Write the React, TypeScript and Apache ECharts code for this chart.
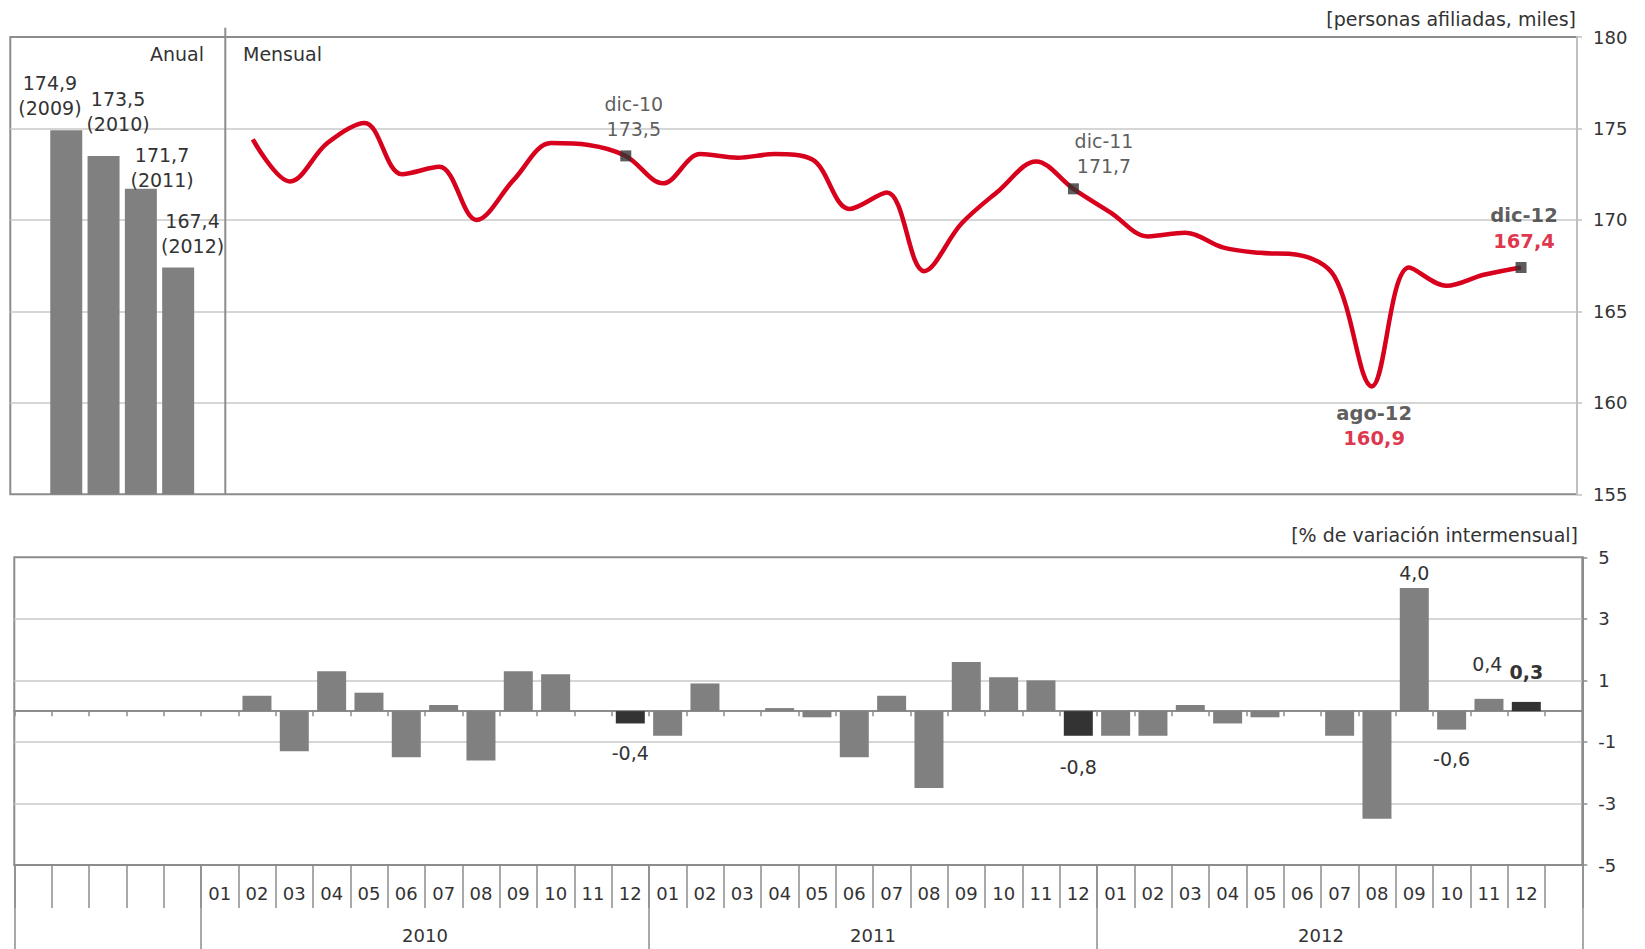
import React, { useEffect, useRef } from 'react';
import * as echarts from 'echarts';

// ---------- data ----------
const monthAbbr = ['ene', 'feb', 'mar', 'abr', 'may', 'jun', 'jul', 'ago', 'sep', 'oct', 'nov', 'dic'];
const monthLabels = ['01', '02', '03', '04', '05', '06', '07', '08', '09', '10', '11', '12'];
const years = ['2010', '2011', '2012'];

const annualYears = ['2009', '2010', '2011', '2012'];
const annualValues = [174.9, 173.5, 171.7, 167.4];

// personas afiliadas (miles), feb-10 .. dic-12
const monthlyStart = 'feb-10';
const monthlyValues = [
  174.4, 172.1, 174.2, 175.3, 172.5, 172.9, 170.0, 172.2, 174.2, 174.1, 173.5,
  172.0, 173.6, 173.4, 173.6, 173.3, 170.6, 171.5, 167.2, 169.8, 171.6, 173.2, 171.7,
  170.4, 169.1, 169.3, 168.5, 168.2, 168.1, 166.9, 160.9, 167.4, 166.4, 167.0, 167.4,
];

// % variación intermensual, ene-10 .. dic-12
const monthlyVariation = [
  null, 0.5, -1.3, 1.3, 0.6, -1.5, 0.2, -1.6, 1.3, 1.2, 0.0, -0.4,
  -0.8, 0.9, 0.0, 0.1, -0.2, -1.5, 0.5, -2.5, 1.6, 1.1, 1.0, -0.8,
  -0.8, -0.8, 0.2, -0.4, -0.2, 0.0, -0.8, -3.5, 4.0, -0.6, 0.4, 0.3,
];

const topTicks = [155, 160, 165, 170, 175, 180];
const bottomTicks = [-5, -3, -1, 1, 3, 5];

// ---------- styles ----------
const FONT = '"DejaVu Sans", Verdana, sans-serif';
const TXT = '#333333';
const RED = '#d7001d';
const BAR = '#808080';
const DARK = '#333333';
const AXIS = '#8c8c8c';
const AXIS_LIGHT = '#c0c0c0';
const GRIDC = '#c8c8c8';

// slots: 1 empty, 4 annual, 36 monthly, 1 empty
const slotIds: string[] = ['vacio-ini'];
annualYears.forEach((y) => slotIds.push('A' + y));
years.forEach((y) => monthAbbr.forEach((m) => slotIds.push(`${m}-${y.slice(2)}`)));
slotIds.push('vacio-fin');
const firstMonthSlot = slotIds.indexOf('ene-10');
const monthlyStartSlot = slotIds.indexOf(monthlyStart);

const fmt = (v: number) => v.toFixed(1).replace('.', ',');

// annual bar label offsets (manual placement as in original)
const annualLabelOffsets = [[-16.3, -4.5], [14.5, -14.5], [21.2, 8.5], [14.4, -3.5]];

const annualData = slotIds.map((id, i) => {
  const k = i - 1;
  if (k < 0 || k >= annualValues.length) return '-';
  return {
    value: annualValues[k],
    label: {
      show: true,
      position: 'top',
      distance: 5,
      offset: annualLabelOffsets[k],
      formatter: `${fmt(annualValues[k])}\n(${annualYears[k]})`,
      fontSize: 19,
      lineHeight: 25,
      color: TXT,
      fontFamily: FONT,
      align: 'center',
    },
  };
});

const lineData = slotIds.map((_, i) => {
  const k = i - monthlyStartSlot;
  return k >= 0 && k < monthlyValues.length ? monthlyValues[k] : '-';
});

const pointNotes = [
  { id: 'dic-10', marker: true, bold: false, offset: [8, -39.4], lh: 25 },
  { id: 'dic-11', marker: true, bold: false, offset: [30.6, -35.3], lh: 25 },
  { id: 'dic-12', marker: true, bold: true, offset: [3, -39.2], lh: 26.5 },
  { id: 'ago-12', marker: false, bold: true, offset: [2.3, 39.4], lh: 25 },
];

const noteData = pointNotes.map((n) => {
  const slot = slotIds.indexOf(n.id);
  const v = monthlyValues[slot - monthlyStartSlot];
  return {
    value: [slot, v],
    symbol: 'rect',
    symbolSize: n.marker ? 11 : 0,
    label: {
      show: true,
      position: 'inside',
      offset: n.offset,
      formatter: n.bold ? `{a|${n.id}}\n{r|${fmt(v)}}` : `{n|${n.id}}\n{n|${fmt(v)}}`,
      rich: {
        n: { fontSize: 19, lineHeight: n.lh, color: TXT, fontFamily: FONT },
        a: { fontSize: 19.5, lineHeight: n.lh, color: TXT, fontFamily: FONT, fontWeight: 'bold' },
        r: { fontSize: 19.5, lineHeight: n.lh, color: RED, fontFamily: FONT, fontWeight: 'bold' },
      },
    },
  };
});

const variationLabels: Record<string, { pos: string; dist: number; dx?: number; bold?: boolean }> = {
  'dic-10': { pos: 'bottom', dist: 20 },
  'dic-11': { pos: 'bottom', dist: 22 },
  'sep-12': { pos: 'top', dist: 5.5 },
  'oct-12': { pos: 'bottom', dist: 19.4 },
  'nov-12': { pos: 'top', dist: 25, dx: -1.7 },
  'dic-12': { pos: 'top', dist: 20, bold: true },
};

const variationData = slotIds.map((id, i) => {
  const k = i - firstMonthSlot;
  if (k < 0 || k >= monthlyVariation.length || monthlyVariation[k] === null) return '-';
  const v = monthlyVariation[k] as number;
  const lab = variationLabels[id];
  return {
    value: v,
    itemStyle: { color: id.startsWith('dic') ? DARK : BAR },
    label: lab
      ? {
          show: true,
          position: lab.pos,
          distance: lab.dist,
          offset: [lab.dx || 0, 0],
          formatter: fmt(v),
          fontSize: 19,
          color: TXT,
          fontFamily: FONT,
          fontWeight: lab.bold ? 'bold' : 'normal',
        }
      : { show: false },
  };
});

const yearStartSlots = years.map((y) => slotIds.indexOf(`ene-${y.slice(2)}`));
const yearMidBoundaries = yearStartSlots.map((s) => s + 6);

// ---------- layout ----------
const TOP = { left: 10.3, top: 37, width: 1566.7, height: 457.3 };
const BOT = { left: 14.3, top: 557.3, width: 1568, height: 307.7 };

const axisText = { fontSize: 18, color: TXT, fontFamily: FONT };

const option: any = {
  animation: false,
  backgroundColor: '#ffffff',
  textStyle: { fontFamily: FONT },
  grid: [
    { ...TOP, show: true, borderColor: AXIS, borderWidth: 2, backgroundColor: 'transparent' },
    { ...BOT, show: true, borderColor: AXIS, borderWidth: 2, backgroundColor: 'transparent' },
    { ...BOT, show: false },
    { ...BOT, show: false },
  ],
  xAxis: [
    {
      gridIndex: 0,
      type: 'category',
      data: slotIds,
      boundaryGap: true,
      axisLine: { show: false },
      axisTick: { show: false },
      axisLabel: { show: false },
      splitLine: { show: false },
    },
    {
      gridIndex: 1,
      type: 'category',
      data: slotIds,
      boundaryGap: true,
      axisLine: { show: true, onZero: true, lineStyle: { color: AXIS, width: 2 } },
      axisTick: { show: true, interval: 0, length: 5, lineStyle: { color: AXIS, width: 1.5 } },
      axisLabel: { show: false },
      splitLine: { show: false },
    },
    {
      gridIndex: 2,
      type: 'category',
      data: slotIds,
      boundaryGap: true,
      position: 'bottom',
      axisLine: { show: true, onZero: false, lineStyle: { color: AXIS, width: 2 } },
      axisTick: { show: true, interval: 0, length: 43, lineStyle: { color: AXIS, width: 1.5 } },
      axisLabel: {
        ...axisText,
        interval: 0,
        margin: 19,
        formatter: (val: string, idx: number) => {
          const k = idx - firstMonthSlot;
          return k >= 0 && k < years.length * 12 ? monthLabels[k % 12] : '';
        },
      },
      splitLine: { show: false },
    },
    {
      gridIndex: 3,
      type: 'value',
      min: 0,
      max: slotIds.length,
      interval: 1,
      position: 'bottom',
      axisLine: { show: false, onZero: false },
      axisTick: {
        show: true,
        customValues: [0, ...yearStartSlots, slotIds.length],
        length: 90,
        lineStyle: { color: AXIS, width: 1.5 },
      },
      axisLabel: {
        ...axisText,
        customValues: yearMidBoundaries,
        margin: 61,
        formatter: (v: number) => {
          const j = yearMidBoundaries.indexOf(v);
          return j >= 0 ? years[j] : '';
        },
      },
      splitLine: { show: false },
    },
  ],
  yAxis: [
    {
      gridIndex: 0,
      type: 'value',
      position: 'right',
      min: 155,
      max: 180,
      interval: 5,
      axisLine: { show: true, lineStyle: { color: AXIS_LIGHT, width: 2 } },
      axisTick: { show: true, length: 5, lineStyle: { color: AXIS_LIGHT, width: 1.5 } },
      axisLabel: { ...axisText, margin: 16, formatter: (v: number) => String(v) },
      splitLine: { show: true, showMinLine: false, showMaxLine: false, lineStyle: { color: GRIDC, width: 1.5 } },
    },
    {
      gridIndex: 1,
      type: 'value',
      position: 'right',
      min: -5,
      max: 5,
      interval: 1,
      axisLine: { show: true, onZero: false, lineStyle: { color: AXIS, width: 2 } },
      axisTick: { show: true, length: 5, customValues: bottomTicks, lineStyle: { color: AXIS, width: 1.5 } },
      axisLabel: { ...axisText, margin: 16, customValues: bottomTicks, formatter: (v: number) => String(v) },
      splitLine: { show: true, showMinLine: false, showMaxLine: false, lineStyle: { color: GRIDC, width: 1.5 } },
    },
    { gridIndex: 2, type: 'value', min: 0, max: 1, show: false },
    { gridIndex: 3, type: 'value', min: 0, max: 1, show: false },
  ],
  series: [
    {
      name: 'Anual',
      type: 'bar',
      xAxisIndex: 0,
      yAxisIndex: 0,
      data: annualData,
      barWidth: 32,
      itemStyle: { color: BAR },
    },
    {
      name: 'Mensual',
      type: 'line',
      xAxisIndex: 0,
      yAxisIndex: 0,
      data: lineData,
      smooth: 0.35,
      symbol: 'none',
      lineStyle: { color: RED, width: 4.5 },
      z: 3,
    },
    {
      name: 'Marcas',
      type: 'scatter',
      xAxisIndex: 0,
      yAxisIndex: 0,
      data: noteData,
      itemStyle: { color: DARK },
      z: 4,
    },
    {
      name: 'Variación',
      type: 'bar',
      xAxisIndex: 1,
      yAxisIndex: 1,
      data: variationData,
      barWidth: 29,
    },
  ],
  graphic: [
    {
      type: 'line',
      shape: { x1: 225.3, y1: 27.7, x2: 225.3, y2: TOP.top + TOP.height },
      style: { stroke: AXIS, lineWidth: 2 },
      z: 10,
    },
    {
      type: 'text',
      x: 204,
      y: 54,
      style: { text: 'Anual', font: `19px ${FONT}`, fill: TXT, align: 'right', verticalAlign: 'middle' },
    },
    {
      type: 'text',
      x: 243,
      y: 54,
      style: { text: 'Mensual', font: `19px ${FONT}`, fill: TXT, align: 'left', verticalAlign: 'middle' },
    },
    {
      type: 'text',
      x: 1576,
      y: 19,
      style: { text: '[personas afiliadas, miles]', font: `19px ${FONT}`, fill: TXT, align: 'right', verticalAlign: 'middle' },
    },
    {
      type: 'text',
      x: 1578,
      y: 535,
      style: { text: '[% de variación intermensual]', font: `19px ${FONT}`, fill: TXT, align: 'right', verticalAlign: 'middle' },
    },
  ],
};

export default function App() {
  const ref = useRef<HTMLDivElement>(null);
  useEffect(() => {
    if (!ref.current) return;
    const chart = echarts.init(ref.current, null, { renderer: 'svg' });
    chart.setOption(option);
    return () => chart.dispose();
  }, []);
  return (
    <div
      ref={ref}
      style={{ position: 'fixed', left: 0, top: 0, width: 1645, height: 949, background: '#fff' }}
    />
  );
}
